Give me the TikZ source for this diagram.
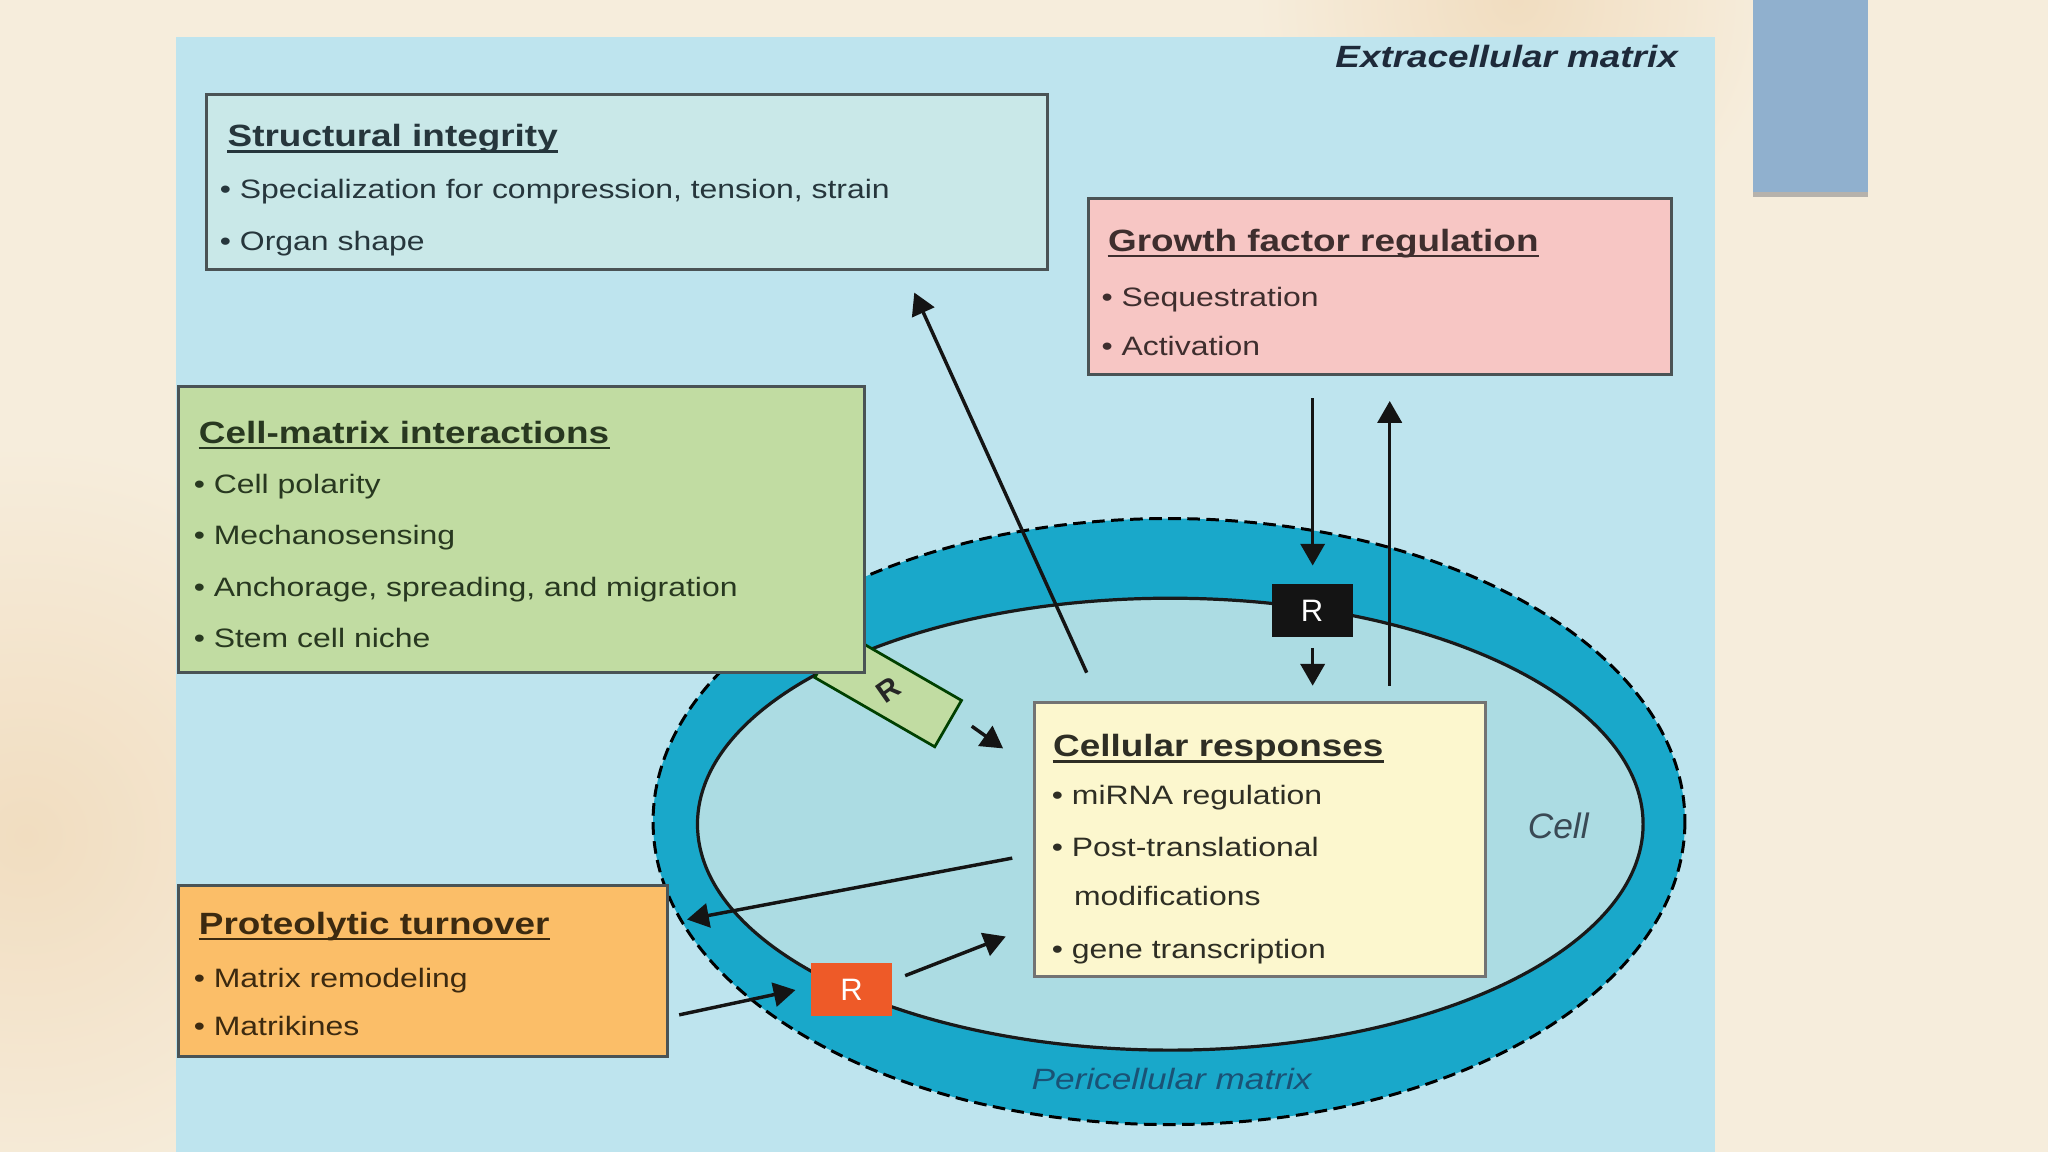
\documentclass[tikz,border=0pt]{standalone}
\usepackage{fontspec}
\setmainfont{Liberation Sans}[FakeStretch=1.2]
\newfontfamily\plainsans{Liberation Sans}
\usetikzlibrary{arrows.meta,fit}
\definecolor{cream}{HTML}{F6EDDC}
\definecolor{peach}{HTML}{F1DDC0}
\definecolor{ecm}{HTML}{BEE4EE}
\definecolor{peri}{HTML}{19A8CA}
\definecolor{cellc}{HTML}{ACDCE3}
\definecolor{sfill}{HTML}{C9E8E8}
\definecolor{gfill}{HTML}{F7C6C4}
\definecolor{cfill}{HTML}{C1DCA2}
\definecolor{pfill}{HTML}{FBBE68}
\definecolor{rfill}{HTML}{FCF7CE}
\definecolor{steel}{HTML}{90B0CE}
\definecolor{rred}{HTML}{EE5A28}
\definecolor{edge}{HTML}{4A5355}
\definecolor{inkS}{HTML}{26363C}
\definecolor{inkG}{HTML}{3E2E2E}
\definecolor{inkC}{HTML}{283820}
\definecolor{inkP}{HTML}{3C2A10}
\definecolor{inkR}{HTML}{2E2E24}
\definecolor{navy}{HTML}{1E2A3A}
\definecolor{cellink}{HTML}{3A4A55}
\definecolor{periink}{HTML}{1A5275}
\begin{document}
\begin{tikzpicture}[x=0.02cm,y=-0.02cm,
  box/.style={draw=edge,line width=1.3pt,inner sep=0pt,rectangle},
  ttl/.style={anchor=base west,inner sep=0pt,font=\fontsize{13.4}{15}\selectfont\bfseries},
  itm/.style={anchor=base west,inner sep=0pt,font=\fontsize{11.6}{14}\selectfont},
  uline/.style={line width=0.9pt},
  arr/.style={draw=black!92,line width=1.5pt,-{Triangle[length=9.5pt,width=10.5pt]}},
  rbox/.style={rectangle,inner sep=0pt,minimum width=62*0.02cm,minimum height=41*0.02cm,
    font=\plainsans\fontsize{13.5}{15}\selectfont,text=white}
]
\useasboundingbox (0,0) rectangle (1568,882);
% slide background
\fill[cream] (0,0) rectangle (1568,882);
\shade[inner color=peach,outer color=cream] (20,640) circle (300);
\shade[inner color=peach,outer color=cream] (1160,0) circle (200);
\node[fit={(1342,0)(1430,151)},inner sep=0pt,fill=black!45,opacity=0.6] (stsh) {};
\node[fit={(1342,0)(1430,147)},inner sep=0pt,fill=steel] (st) {};
% panel
\node[fit={(135,28)(1313,882)},inner sep=0pt,fill=ecm] (panel) {};
\node[anchor=base east,inner sep=0pt,text=navy,font=\fontsize{13.4}{15}\selectfont\bfseries\itshape] (ecmlab) at (1285,51.5) {Extracellular matrix};
% pericellular matrix and cell
\coordinate (cc) at (895,629);
\fill[peri] (cc) ellipse [x radius=395,y radius=232];
\draw[line width=1.3pt,dash pattern=on 5.5pt off 2.8pt] (cc) ellipse [x radius=395,y radius=232];
\fill[cellc] (896,631) ellipse [x radius=362,y radius=173];
\draw[line width=1.4pt,black!90] (896,631) ellipse [x radius=362,y radius=173];
\node[text=cellink,font=\plainsans\fontsize{15.4}{17}\selectfont\itshape] (celllab) at (1193,632) {Cell};
\node[text=periink,font=\fontsize{12.8}{15}\selectfont\itshape] (perilab) at (897,826) {Pericellular matrix};
% green receptor (under box)
\node[rectangle,draw=black!75!green,line width=1.2pt,fill=cfill,rotate=-30,minimum width=106*0.02cm,minimum height=41*0.02cm] (rg) at (680,527.5) {};
\node[rotate=35,font=\plainsans\bfseries\fontsize{13}{15}\selectfont,text=black!85] (rgl) at (680,528) {R};
% boxes
\node[box,fill=sfill,fit={(158,72)(802,206)}] (bs) {};
\node[box,fill=gfill,fit={(833,152)(1280,287)}] (bg) {};
\node[box,fill=cfill,fit={(137,296)(662,515)}] (bc) {};
\node[box,fill=pfill,fit={(137,678)(511,809)}] (bp) {};
\node[box,fill=rfill,draw=black!55,fit={(792,538)(1137,748)}] (br) {};
% box texts
\node[ttl,text=inkS] (t1) at (174,112.5) {Structural integrity};
\node[itm,text=inkS] (s1) at (168,152) {\textbullet\ Specialization for compression, tension, strain};
\node[itm,text=inkS] (s2) at (168,192) {\textbullet\ Organ shape};
\node[ttl,text=inkG] (t2) at (848,192.5) {Growth factor regulation};
\node[itm,text=inkG] (g1) at (843,235) {\textbullet\ Sequestration};
\node[itm,text=inkG] (g2) at (843,272) {\textbullet\ Activation};
\node[ttl,text=inkC] (t3) at (152,339.5) {Cell-matrix interactions};
\node[itm,text=inkC] (c1) at (148,378) {\textbullet\ Cell polarity};
\node[itm,text=inkC] (c2) at (148,417) {\textbullet\ Mechanosensing};
\node[itm,text=inkC] (c3) at (148,457) {\textbullet\ Anchorage, spreading, and migration};
\node[itm,text=inkC] (c4) at (148,496) {\textbullet\ Stem cell niche};
\node[ttl,text=inkP] (t4) at (152,715.5) {Proteolytic turnover};
\node[itm,text=inkP] (p1) at (148,756) {\textbullet\ Matrix remodeling};
\node[itm,text=inkP] (p2) at (148,793) {\textbullet\ Matrikines};
\node[ttl,text=inkR] (t5) at (806,579.5) {Cellular responses};
\node[itm,text=inkR] (r1) at (805,616) {\textbullet\ miRNA regulation};
\node[itm,text=inkR] (r2) at (805,656) {\textbullet\ Post-translational};
\node[itm,text=inkR] (r3) at (822,693) {modifications};
\node[itm,text=inkR] (r4) at (805,734) {\textbullet\ gene transcription};
\foreach \t/\c in {t1/inkS,t2/inkG,t3/inkC,t4/inkP,t5/inkR}
  \draw[uline,draw=\c] ([yshift=-2pt]\t.base west) -- ([yshift=-2pt]\t.base east);
% receptors on membrane
\node[rbox,fill=black!92] (rb) at (1004.5,467.5) {R};
\node[rbox,fill=rred] (ro) at (652,757.5) {R};
% arrow end points
\coordinate (a1s) at (832,515); \coordinate (a1e) at (700,224);
\coordinate (a2s) at (1005,305); \coordinate (a2e) at (1005,433);
\coordinate (a3s) at (1005,496); \coordinate (a3e) at (1005,525);
\coordinate (a4s) at (1064,525); \coordinate (a4e) at (1064,307);
\coordinate (a5s) at (744,556); \coordinate (a5e) at (768,573);
\coordinate (a6s) at (775,657); \coordinate (a6e) at (526,704);
\coordinate (a7s) at (520,777); \coordinate (a7e) at (609,758);
\coordinate (a8s) at (693,747); \coordinate (a8e) at (770,717);
\draw[arr] (a1s) -- (a1e);
\draw[arr] (a2s) -- (a2e);
\draw[arr] (a3s) -- (a3e);
\draw[arr] (a4s) -- (a4e);
\draw[arr] (a5s) -- (a5e);
\draw[arr] (a6s) -- (a6e);
\draw[arr] (a7s) -- (a7e);
\draw[arr] (a8s) -- (a8e);
\end{tikzpicture}
\end{document}
